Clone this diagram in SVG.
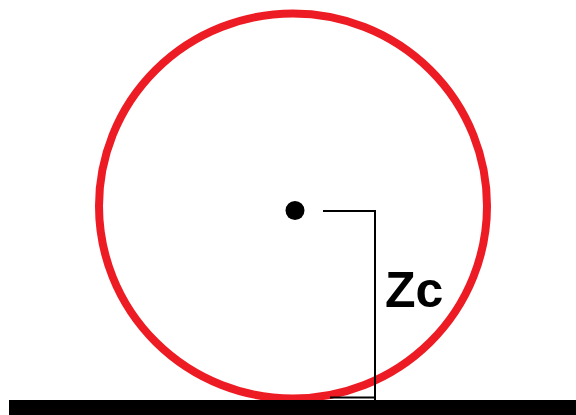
<svg xmlns="http://www.w3.org/2000/svg" width="576" height="415" viewBox="0 0 576 415">
<style>
.ln{stroke:#000;stroke-width:2;fill:none}
.lbl{font-family:"Liberation Sans",Arial,sans-serif;font-weight:bold;font-size:50px;fill:#000}
</style>
<rect width="576" height="415" fill="#fff"/>
<g id="wheel">
<ellipse cx="293" cy="206" rx="194" ry="192.5" fill="none" stroke="#ED1C24" stroke-width="8"/>
<circle cx="295" cy="210.5" r="9.5" fill="#000"/>
</g>
<g id="ground">
<rect x="9" y="400" width="567" height="15" fill="#000"/>
</g>
<g id="connectors">
<polyline class="ln" points="323,211 375,211 375,400"/>
<line class="ln" x1="330" y1="397.5" x2="375" y2="397.5"/>
</g>
<g id="label">
<text class="lbl" x="385" y="307">Zc</text>
</g>
</svg>
